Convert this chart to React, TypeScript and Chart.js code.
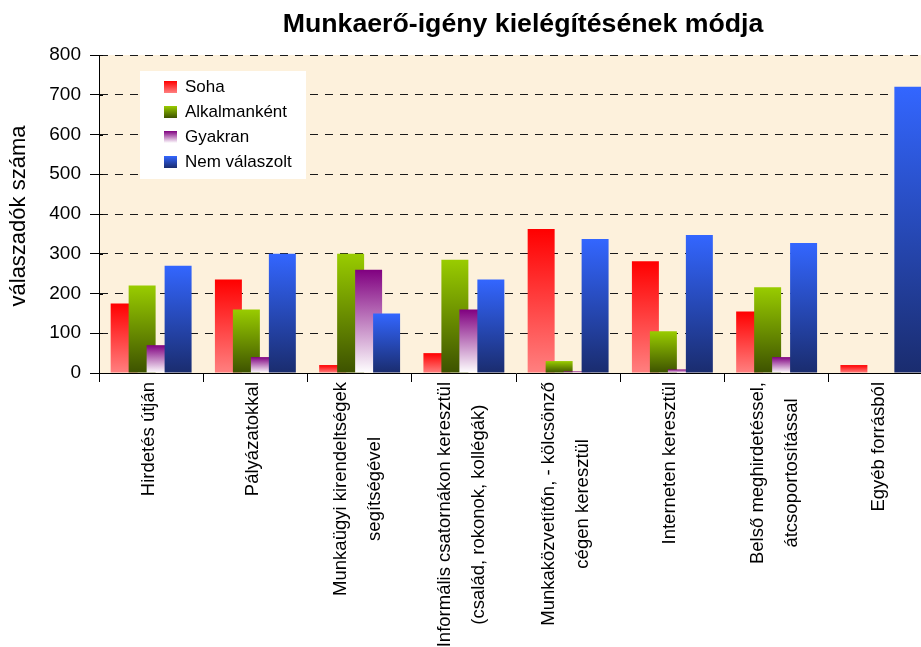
import React, { useEffect, useRef } from "react";
import { Chart, registerables } from "chart.js";

Chart.register(...registerables);

const TITLE = "Munkaerő-igény kielégítésének módja";
const Y_TITLE = "válaszadók száma";

const CATEGORIES: string[][] = [
  ["Hirdetés útján"],
  ["Pályázatokkal"],
  ["Munkaügyi kirendeltségek", "segítségével"],
  ["Informális csatornákon keresztül", "(család, rokonok, kollégák)"],
  ["Munkaközvetítőn, - kölcsönző", "cégen keresztül"],
  ["Interneten keresztül"],
  ["Belső meghirdetéssel,", "átcsoportosítással"],
  ["Egyéb forrásból"],
];

const SERIES_NAMES = ["Soha", "Alkalmanként", "Gyakran", "Nem válaszolt"];

const SOHA = [175, 235, 20, 50, 362, 281, 155, 20];
const ALKALMANKENT = [220, 160, 300, 285, 30, 105, 216, 0];
const GYAKRAN = [70, 40, 260, 160, 4, 9, 40, 0];
const NEM_VALASZOLT = [270, 300, 150, 235, 337, 347, 327, 720];

const Y_MIN = 0;
const Y_MAX = 800;
const Y_STEP = 100;

// gradient colors (top, bottom)
const GRADIENTS: [string, string][] = [
  ["#FF0000", "#FF8080"],
  ["#99CC00", "#3D5200"],
  ["#800080", "#FFFFFF"],
  ["#3366FF", "#1A2C6E"],
];

const FONT = "'Liberation Sans', Arial, sans-serif";
const PLOT_BG = "#FDF1DC";

function gradientFill(idx: number) {
  return (c: any) => {
    const [top, bottom] = GRADIENTS[idx];
    if (c.type !== "data") return top;
    const chart = c.chart;
    const ys = chart.scales && chart.scales.y;
    if (!ys) return top;
    const v = c.parsed ? c.parsed.y : c.raw;
    const yTop = ys.getPixelForValue(v);
    const yBot = ys.getPixelForValue(0);
    if (!isFinite(yTop) || !isFinite(yBot) || Math.abs(yBot - yTop) < 0.5) return top;
    const g = chart.ctx.createLinearGradient(0, yTop, 0, yBot);
    g.addColorStop(0, top);
    g.addColorStop(1, bottom);
    return g;
  };
}

const customPlugin = {
  id: "custom",
  beforeDraw(chart: any) {
    const { ctx, chartArea: a, width, height } = chart;
    ctx.save();
    ctx.fillStyle = "#FFFFFF";
    ctx.fillRect(0, 0, width, height);
    ctx.fillStyle = PLOT_BG;
    ctx.fillRect(a.left, a.top, a.right - a.left, a.bottom - a.top);
    ctx.restore();
  },
  beforeDatasetsDraw(chart: any) {
    const { ctx, chartArea: a } = chart;
    ctx.save();
    ctx.beginPath();
    ctx.rect(a.left, a.top, a.right - a.left, a.bottom - a.top + 1);
    ctx.clip();
    for (let i = 0; i < chart.data.datasets.length; i++) {
      const meta = chart.getDatasetMeta(i);
      if (!meta.hidden) meta.controller.draw();
    }
    ctx.restore();
    return false;
  },
  afterDraw(chart: any) {
    const { ctx, chartArea: a } = chart;
    const xs = chart.scales.x;
    const ys = chart.scales.y;
    ctx.save();
    ctx.fillStyle = "#000000";

    // small inner part of y tick marks (cross the axis)
    ctx.strokeStyle = "#000000";
    ctx.lineWidth = 1;
    ys.ticks.forEach((t: any) => {
      const py = Math.round(ys.getPixelForValue(t.value)) + 0.5;
      ctx.beginPath();
      ctx.moveTo(a.left, py);
      ctx.lineTo(a.left + 4, py);
      ctx.stroke();
    });

    // Title
    ctx.font = `bold 26.7px ${FONT}`;
    ctx.textAlign = "center";
    ctx.textBaseline = "alphabetic";
    ctx.fillText(TITLE, 523, 32);

    // Y axis title
    ctx.save();
    ctx.font = `22px ${FONT}`;
    ctx.translate(19, (a.top + a.bottom) / 2 + 2);
    ctx.rotate(-Math.PI / 2);
    ctx.textAlign = "center";
    ctx.textBaseline = "middle";
    ctx.fillText(Y_TITLE, 0, 0);
    ctx.restore();

    // X labels (rotated, centered lines)
    ctx.font = `18.5px ${FONT}`;
    const lineGap = 34;
    const labels = chart.data.labels as string[][];
    labels.forEach((lines, i) => {
      const cx = xs.getPixelForValue(i) - 2;
      let maxW = 0;
      lines.forEach((l) => {
        maxW = Math.max(maxW, ctx.measureText(l).width);
      });
      const cy = a.bottom + 9 + maxW / 2;
      ctx.save();
      ctx.translate(cx, cy);
      ctx.rotate(-Math.PI / 2);
      ctx.textAlign = "center";
      ctx.textBaseline = "middle";
      const n = lines.length;
      lines.forEach((l, k) => {
        ctx.fillText(l, 0, (k - (n - 1) / 2) * lineGap);
      });
      ctx.restore();
    });

    // Legend
    const lx = a.left + 41;
    const ly = a.top + 16;
    ctx.fillStyle = "#FFFFFF";
    ctx.fillRect(lx, ly, 166, 108);
    ctx.font = `17px ${FONT}`;
    ctx.textAlign = "left";
    ctx.textBaseline = "middle";
    SERIES_NAMES.forEach((name, k) => {
      const rc = ly + 16 + k * 25;
      const sy = rc - 6;
      const g = ctx.createLinearGradient(0, sy, 0, sy + 12);
      g.addColorStop(0, GRADIENTS[k][0]);
      g.addColorStop(1, GRADIENTS[k][1]);
      ctx.fillStyle = g;
      ctx.fillRect(lx + 24, sy, 13, 12);
      ctx.fillStyle = "#000000";
      ctx.fillText(name, lx + 45, rc);
    });
    ctx.restore();
  },
};

export default function App() {
  const ref = useRef<HTMLCanvasElement>(null);
  useEffect(() => {
    document.documentElement.style.overflow = "hidden";
    document.body.style.margin = "0";
    document.body.style.overflow = "hidden";
    const canvas = ref.current!;
    const seriesData = [SOHA, ALKALMANKENT, GYAKRAN, NEM_VALASZOLT];
    const chart = new Chart(canvas, {
      type: "bar",
      data: {
        labels: CATEGORIES,
        datasets: seriesData.map((d, i) => ({
          label: SERIES_NAMES[i],
          data: d,
          backgroundColor: gradientFill(i),
          borderWidth: 0,
          categoryPercentage: 0.69,
          barPercentage: 1.5,
        })),
      },
      options: {
        responsive: false,
        animation: false,
        events: [],
        devicePixelRatio: 1,
        layout: { padding: { top: 55, left: 0, right: 0, bottom: 0 } },
        plugins: {
          legend: { display: false },
          title: { display: false },
          tooltip: { enabled: false },
        },
        scales: {
          x: {
            offset: true,
            grid: {
              display: true,
              offset: true,
              drawOnChartArea: false,
              drawTicks: true,
              tickLength: 9,
              tickColor: "#000000",
              tickWidth: 1,
            },
            border: { display: true, color: "#000000", width: 1 },
            ticks: { display: false },
            afterFit: (scale: any) => {
              scale.height = 274;
            },
          },
          y: {
            min: Y_MIN,
            max: Y_MAX,
            grid: {
              color: "#1a1a1a",
              lineWidth: 1,
              drawTicks: true,
              tickLength: 9,
              tickColor: "#000000",
              tickBorderDash: [],
            },
            border: { display: true, color: "#000000", width: 1, dash: [8, 7] },
            ticks: {
              stepSize: Y_STEP,
              padding: 9,
              color: "#000000",
              font: { family: FONT, size: 19 },
            },
            afterFit: (scale: any) => {
              scale.width = 99;
            },
          },
        },
      },
      plugins: [customPlugin],
    } as any);
    return () => chart.destroy();
  }, []);
  return (
    <div style={{ width: 933, height: 647, overflow: "hidden" }}>
      <canvas ref={ref} width={933} height={647} style={{ display: "block" }} />
    </div>
  );
}
